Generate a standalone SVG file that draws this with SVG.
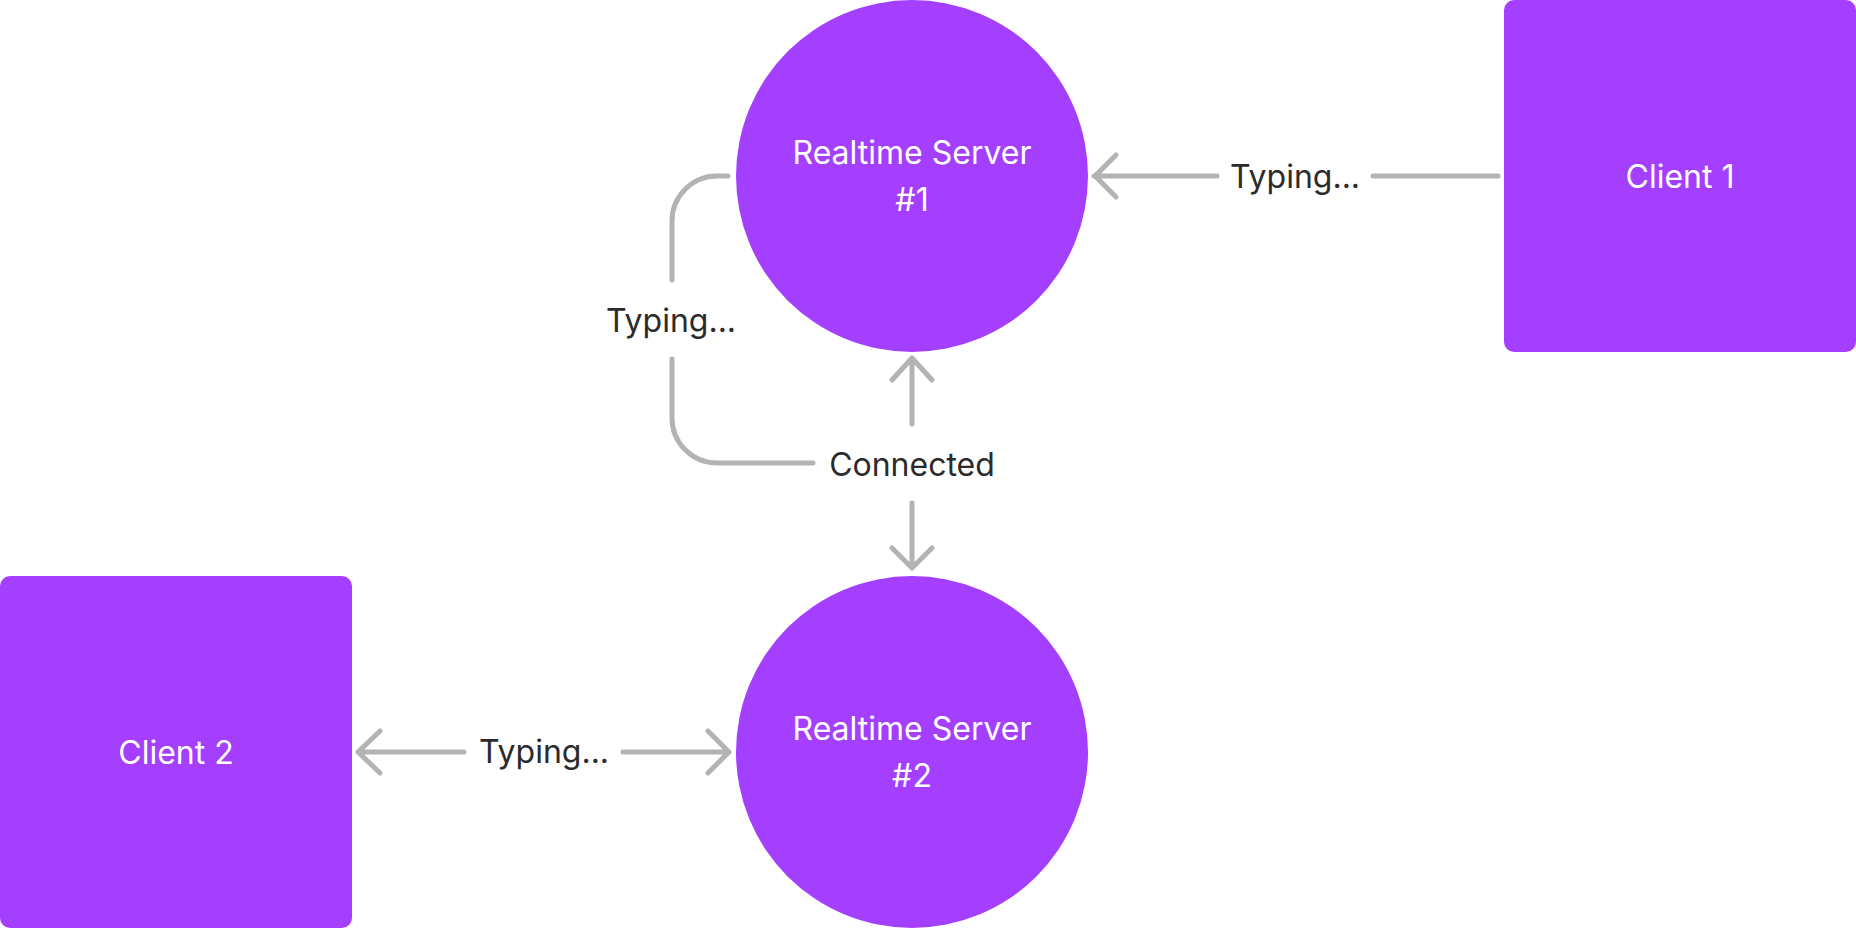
<svg xmlns="http://www.w3.org/2000/svg" width="1856" height="928" viewBox="0 0 1856 928">
<style>
.node{fill:#A43FFF}
.nt{fill:#ffffff;font-family:Inter,"Liberation Sans",sans-serif;font-size:32px;text-anchor:middle}
.lt{fill:#2b2b2b;font-family:Inter,"Liberation Sans",sans-serif;font-size:32px;text-anchor:middle}
.c{fill:none;stroke:#b3b3b3;stroke-width:5;stroke-linecap:round;stroke-linejoin:round}
</style>
<rect width="1856" height="928" fill="#ffffff"/>
<g id="server1">
<circle class="node" cx="912" cy="176" r="176"/>
<text class="nt" x="912" y="164">Realtime Server</text>
<text class="nt" x="912" y="211">#1</text>
</g>
<g id="server2">
<circle class="node" cx="912" cy="752" r="176"/>
<text class="nt" x="912" y="740">Realtime Server</text>
<text class="nt" x="912" y="787">#2</text>
</g>
<g id="client1">
<rect class="node" x="1504" y="0" width="352" height="352" rx="10"/>
<text class="nt" x="1680" y="188">Client 1</text>
</g>
<g id="client2">
<rect class="node" x="0" y="576" width="352" height="352" rx="10"/>
<text class="nt" x="176" y="764">Client 2</text>
</g>
<g id="connectors">
<path class="c" d="M1498 176 H1373"/>
<path class="c" d="M1217 176 H1094 M1116 155 L1095 176 L1116 197"/>
<text class="lt" x="1295" y="188">Typing...</text>
<path class="c" d="M912 424 V358 M892 380 L912 358 L932 380"/>
<path class="c" d="M912 503 V568 M892 548 L912 568 L932 548"/>
<text class="lt" x="912" y="476">Connected</text>
<path class="c" d="M813 463 H717 A45 45 0 0 1 672 418 V359"/>
<path class="c" d="M672 280 V221 A45 45 0 0 1 717 176 H728"/>
<text class="lt" x="671" y="332">Typing...</text>
<path class="c" d="M464 752 H358 M380 731 L358 752 L380 773"/>
<path class="c" d="M623 752 H729 M708 731 L729 752 L708 773"/>
<text class="lt" x="544" y="763">Typing...</text>
</g>
</svg>
